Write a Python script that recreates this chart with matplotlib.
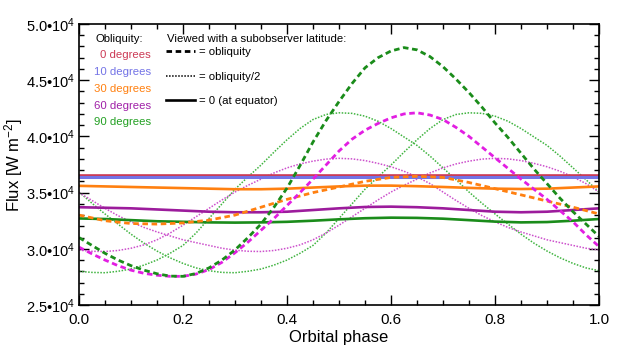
import matplotlib
matplotlib.use('Agg')
import matplotlib.pyplot as plt
from matplotlib.lines import Line2D
from matplotlib.ticker import MultipleLocator, FuncFormatter
import numpy as np

plt.rcParams['font.family'] = ['Liberation Sans', 'DejaVu Sans']
plt.rcParams['mathtext.fontset'] = 'custom'
plt.rcParams['mathtext.rm'] = 'Liberation Sans'
plt.rcParams['mathtext.it'] = 'Liberation Sans:italic'

# 轨道相位采样点
phase = [0.00, 0.05, 0.10, 0.15, 0.20, 0.25, 0.30, 0.35, 0.40, 0.45, 0.50,
         0.55, 0.60, 0.65, 0.70, 0.75, 0.80, 0.85, 0.90, 0.95, 1.00]
phase_fine = [0.000, 0.025, 0.050, 0.075, 0.100, 0.125, 0.150, 0.175, 0.200, 0.225,
              0.250, 0.275, 0.300, 0.325, 0.350, 0.375, 0.400, 0.425, 0.450, 0.475,
              0.500, 0.525, 0.550, 0.575, 0.600, 0.625, 0.650, 0.675, 0.700, 0.725,
              0.750, 0.775, 0.800, 0.825, 0.850, 0.875, 0.900, 0.925, 0.950, 0.975, 1.000]
phase_flat = [0.0, 1.0]

# 通量, 单位 1e4 W m^-2
flux_0deg = [3.655, 3.655]
flux_10deg = [3.64, 3.64]

flux_30_eq = [3.560, 3.555, 3.550, 3.545, 3.540, 3.535, 3.530, 3.530, 3.535, 3.545, 3.555,
              3.562, 3.562, 3.557, 3.550, 3.542, 3.535, 3.532, 3.535, 3.545, 3.555]
flux_30_obl = [3.300, 3.250, 3.225, 3.220, 3.230, 3.255, 3.300, 3.370, 3.440, 3.500, 3.550,
               3.600, 3.635, 3.645, 3.635, 3.590, 3.535, 3.480, 3.425, 3.370, 3.310]

flux_60_eq = [3.370, 3.365, 3.360, 3.350, 3.340, 3.330, 3.325, 3.325, 3.330, 3.345, 3.360,
              3.372, 3.375, 3.370, 3.360, 3.345, 3.330, 3.325, 3.330, 3.345, 3.360]
flux_60_obl = [3.015, 2.955, 2.900, 2.850, 2.810, 2.782, 2.765, 2.755, 2.755, 2.775,
               2.815, 2.880, 2.965, 3.060, 3.165, 3.270, 3.385, 3.500, 3.620, 3.745,
               3.870, 3.975, 4.055, 4.115, 4.165, 4.200, 4.210, 4.190, 4.150, 4.080,
               4.000, 3.905, 3.810, 3.715, 3.620, 3.530, 3.440, 3.340, 3.240, 3.125, 3.020]
flux_60_half_a = [3.500, 3.430, 3.360, 3.295, 3.240, 3.190, 3.150, 3.115, 3.080, 3.055,
                  3.030, 3.005, 2.988, 2.978, 2.976, 2.985, 3.005, 3.035, 3.080, 3.140,
                  3.210, 3.285, 3.360, 3.435, 3.505, 3.565, 3.620, 3.675, 3.720, 3.755,
                  3.780, 3.798, 3.805, 3.800, 3.785, 3.760, 3.730, 3.690, 3.640, 3.580, 3.505]
flux_60_half_b = [2.988, 2.978, 2.976, 2.985, 3.005, 3.035, 3.080, 3.140, 3.210, 3.285,
                  3.360, 3.435, 3.505, 3.565, 3.620, 3.675, 3.720, 3.755, 3.780, 3.798,
                  3.805, 3.800, 3.785, 3.760, 3.730, 3.690, 3.640, 3.580, 3.505, 3.430,
                  3.360, 3.295, 3.240, 3.190, 3.150, 3.115, 3.080, 3.055, 3.030, 3.005, 2.990]

flux_90_eq = [3.270, 3.265, 3.255, 3.245, 3.240, 3.235, 3.233, 3.235, 3.240, 3.250, 3.262,
              3.272, 3.277, 3.275, 3.268, 3.255, 3.242, 3.235, 3.238, 3.250, 3.265]
flux_90_obl = [3.100, 3.030, 2.960, 2.900, 2.850, 2.810, 2.778, 2.757, 2.755, 2.780,
               2.830, 2.900, 2.990, 3.100, 3.220, 3.370, 3.540, 3.740, 3.950, 4.140,
               4.310, 4.470, 4.610, 4.700, 4.760, 4.790, 4.770, 4.710, 4.620, 4.510,
               4.390, 4.260, 4.120, 3.990, 3.850, 3.710, 3.580, 3.450, 3.330, 3.220, 3.110]
flux_90_half_a = [3.505, 3.405, 3.310, 3.220, 3.130, 3.050, 2.980, 2.920, 2.870, 2.830,
                  2.805, 2.790, 2.787, 2.800, 2.820, 2.855, 2.900, 2.960, 3.030, 3.140,
                  3.270, 3.400, 3.530, 3.640, 3.745, 3.860, 3.970, 4.070, 4.150, 4.195,
                  4.210, 4.205, 4.180, 4.135, 4.070, 3.995, 3.920, 3.825, 3.720, 3.615, 3.505]
flux_90_half_b = [2.800, 2.790, 2.787, 2.800, 2.820, 2.855, 2.900, 2.960, 3.030, 3.140,
                  3.270, 3.400, 3.530, 3.640, 3.745, 3.860, 3.970, 4.070, 4.150, 4.195,
                  4.210, 4.205, 4.180, 4.135, 4.070, 3.995, 3.920, 3.825, 3.720, 3.615,
                  3.505, 3.405, 3.310, 3.220, 3.130, 3.050, 2.980, 2.920, 2.870, 2.830, 2.805]

obliquity_labels = ['0 degrees', '10 degrees', '30 degrees', '60 degrees', '90 degrees']
view_labels = ['= obliquity', '= obliquity/2', '= 0 (at equator)']

RED = '#cc3a55'
BLUE = '#7373e6'
ORANGE = '#ff8010'
PURPLE = '#9c1c9c'
MAGENTA = '#e21ee2'
MAGENTA_DOT = '#cc50cc'
GREEN = '#1a8c1a'
GREEN_DOT = '#40b440'
label_colors = [RED, BLUE, ORANGE, '#a020a8', '#22a022']

DASH = (0, (2.0, 1.3))
DOT = (0, (1.0, 1.0))

fig = plt.figure(figsize=(6.23, 3.56), dpi=100)
ax = fig.add_axes([79 / 623, 1 - 305 / 356, 520 / 623, 281 / 356])

ph = np.array(phase)
pfine = np.array(phase_fine)
pf = np.array(phase_flat)

# 点线 (subobserver latitude = obliquity / 2)
ax.plot(pfine, flux_90_half_a, color=GREEN_DOT, lw=1.1, ls=DOT)
ax.plot(pfine, flux_90_half_b, color=GREEN_DOT, lw=1.1, ls=DOT)
ax.plot(pfine, flux_60_half_a, color=MAGENTA_DOT, lw=1.1, ls=DOT)
ax.plot(pfine, flux_60_half_b, color=MAGENTA_DOT, lw=1.1, ls=DOT)

# 实线 (赤道)
ax.plot(pf, flux_0deg, color=RED, lw=1.9)
ax.plot(pf, flux_10deg, color=BLUE, lw=2.2)
ax.plot(ph, flux_30_eq, color=ORANGE, lw=1.9)
ax.plot(ph, flux_60_eq, color=PURPLE, lw=1.9)
ax.plot(ph, flux_90_eq, color=GREEN, lw=1.9)

# 虚线 (subobserver latitude = obliquity)
ax.plot(ph, flux_30_obl, color=ORANGE, lw=2.0, ls=DASH)
ax.plot(pfine, flux_60_obl, color=MAGENTA, lw=2.0, ls=DASH)
ax.plot(pfine, flux_90_obl, color=GREEN, lw=2.0, ls=DASH)

ax.set_xlim(0, 1)
ax.set_ylim(2.5, 5.0)
ax.xaxis.set_major_locator(MultipleLocator(0.2))
ax.xaxis.set_minor_locator(MultipleLocator(0.05))
ax.yaxis.set_major_locator(MultipleLocator(0.5))
ax.yaxis.set_minor_locator(MultipleLocator(0.1))
ax.xaxis.set_major_formatter(FuncFormatter(lambda v, p: f'{v:.1f}'))
ax.yaxis.set_major_formatter(FuncFormatter(lambda v, p: f'{v:.1f}\u202210$^{{4}}$'))
ax.tick_params(which='both', direction='in', top=True, right=True, width=1.0,
               color='black')
ax.tick_params(which='major', length=7.5)
ax.tick_params(axis='x', which='major', pad=6, labelsize=11)
ax.tick_params(axis='y', which='major', pad=3, labelsize=10.5)
ax.tick_params(which='minor', length=3.5)
for s in ax.spines.values():
    s.set_linewidth(1.2)

ax.set_xlabel('Orbital phase', fontsize=12, labelpad=2)
ax.set_ylabel('Flux [W m$^{-2}$]', fontsize=12)
ax.yaxis.set_label_coords(-0.104, 0.5)

# 倾角图例
ax.text(0.031, 0.947, 'Obliquity:', transform=ax.transAxes, fontsize=8.2,
        ha='left', va='center')
for i, (lab, col) in enumerate(zip(obliquity_labels, label_colors)):
    ax.text(0.138, 0.889 - i * 0.0598, lab, transform=ax.transAxes, fontsize=8.2,
            ha='right', va='center', color=col)

# 视角图例
ax.text(0.170, 0.947, 'Viewed with a subobserver latitude:', transform=ax.transAxes,
        fontsize=8.2, ha='left', va='center')
handles = [Line2D([], [], color='black', lw=2.0, ls=DASH),
           Line2D([], [], color='black', lw=1.1, ls=DOT),
           Line2D([], [], color='black', lw=1.9)]
leg = ax.legend(handles, view_labels, loc='upper left', bbox_to_anchor=(0.168, 0.917),
                frameon=False, fontsize=8.2, borderpad=0, borderaxespad=0,
                handlelength=2.5, handletextpad=0.4, labelspacing=1.25)

fig.savefig('out.png', dpi=100)
